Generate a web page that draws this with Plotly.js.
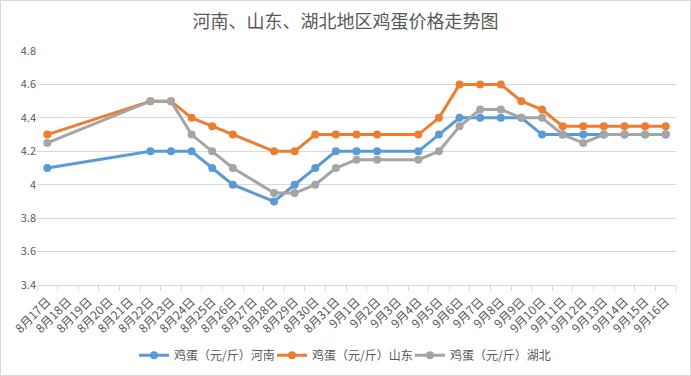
<!DOCTYPE html>
<html>
<head>
<meta charset="utf-8">
<script src="https://cdn.plot.ly/plotly-3.0.1.min.js"></script>
<style>
html,body{margin:0;padding:0;background:#fff;}
#chart{width:691px;height:376px;box-sizing:border-box;border:1px solid #d9d9d9;}
</style>
</head>
<body>
<div id="chart"></div>
<script>
const categories = ["8月17日","8月18日","8月19日","8月20日","8月21日","8月22日","8月23日","8月24日","8月25日","8月26日","8月27日","8月28日","8月29日","8月30日","8月31日","9月1日","9月2日","9月3日","9月4日","9月5日","9月6日","9月7日","9月8日","9月9日","9月10日","9月11日","9月12日","9月13日","9月14日","9月15日","9月16日"];
const henan =    [4.1,null,null,null,null,4.2,4.2,4.2,4.1,4.0,null,3.9,4.0,4.1,4.2,4.2,4.2,null,4.2,4.3,4.4,4.4,4.4,4.4,4.3,4.3,4.3,4.3,4.3,4.3,4.3];
const shandong = [4.3,null,null,null,null,4.5,4.5,4.4,4.35,4.3,null,4.2,4.2,4.3,4.3,4.3,4.3,null,4.3,4.4,4.6,4.6,4.6,4.5,4.45,4.35,4.35,4.35,4.35,4.35,4.35];
const hubei =    [4.25,null,null,null,null,4.5,4.5,4.3,4.2,4.1,null,3.95,3.95,4.0,4.1,4.15,4.15,null,4.15,4.2,4.35,4.45,4.45,4.4,4.4,4.3,4.25,4.3,4.3,4.3,4.3];
const seriesNames = ["鸡蛋（元/斤）河南","鸡蛋（元/斤）山东","鸡蛋（元/斤）湖北"];
const colors = ["#5B9BD5","#ED7D31","#A5A5A5"];
const values = [henan, shandong, hubei];
const legendIds = ["legend","legend2","legend3"];
const legendX = [133, 271, 409];

const font = "'Noto Sans CJK SC', 'Noto Sans', sans-serif";
const traces = values.map((v,i)=>({
  x: categories, y: v, name: seriesNames[i], type:"scatter", mode:"lines+markers",
  connectgaps:true, legend: legendIds[i],
  line:{color:colors[i], width:3},
  marker:{color:colors[i], size:8}
}));

const layout = {
  width:689, height:374,
  margin:{l:36,r:14,t:50,b:90, autoexpand:false},
  paper_bgcolor:"#fff", plot_bgcolor:"#fff",
  font:{family:font, color:"#595959", size:11},
  title:{text:"河南、山东、湖北地区鸡蛋价格走势图", font:{family:font,size:18,color:"#595959"}, x:0.5, xanchor:"center", y:0.945, yanchor:"middle"},
  xaxis:{type:"category", range:[-0.5, categories.length-0.5], autorange:false, tickangle:-45, tickson:"boundaries", ticks:"outside", ticklen:5, tickcolor:"#d9d9d9",
         ticklabelstandoff:4,
         showline:true, linecolor:"#d9d9d9", linewidth:1, showgrid:false, tickfont:{size:12,color:"#595959"}, fixedrange:true, automargin:false},
  yaxis:{range:[3.4,4.8], dtick:0.2, tick0:3.4, showgrid:true, gridcolor:"#d9d9d9", gridwidth:1, zeroline:false,
         showline:false, tickfont:{size:11,color:"#595959"}, ticks:"", fixedrange:true, automargin:false},
  showlegend:true
};
legendIds.forEach((id,i)=>{
  layout[id] = {orientation:"h", xref:"container", yref:"container", x:legendX[i]/689, xanchor:"left", y:0.053, yanchor:"middle",
                font:{size:12,color:"#595959"}, itemwidth:30, bgcolor:"rgba(0,0,0,0)"};
});
Plotly.newPlot("chart", traces, layout, {displayModeBar:false, staticPlot:true});
</script>
</body>
</html>
